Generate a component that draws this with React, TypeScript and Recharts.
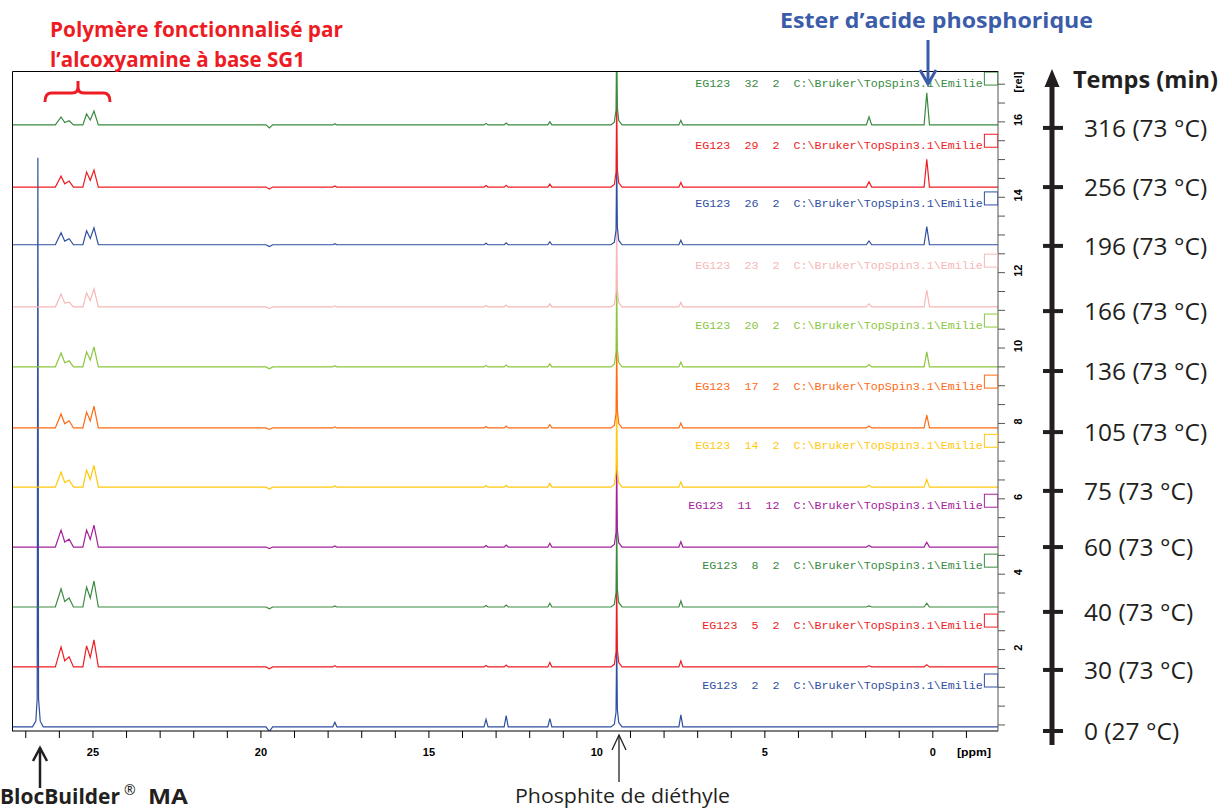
import React from 'react';
import { ComposedChart, Line, Scatter, XAxis, YAxis } from 'recharts';

// axis ranges (ppm reversed, intensity in [rel])
const ppmMin = -1.94;
const ppmMax = 27.41;
const relMin = -0.16;
const relMax = 17.35;

const ppmTicks = Array.from({ length: 29 }, (_, i) => i - 1);
const relTicks = Array.from({ length: 35 }, (_, i) => i * 0.5);

// spectra, bottom to top
const traceNames = ['2  2', '5  2', '8  2', '11  12', '14  2', '17  2', '20  2', '23  2', '26  2', '29  2', '32  2'];
const traceColors = ['#2f4fa0', '#ee1d24', '#3a8a3f', '#a3229b', '#ffc90e', '#ff6a13', '#8cc63f', '#f6b8b8', '#2f4fa0', '#ee1d24', '#3a8a3f'];
const traceOffsets = [-0.05, 1.54, 3.13, 4.72, 6.31, 7.88, 9.5, 11.09, 12.74, 14.27, 15.92];

// time axis
const timeLabels = ['0 (27 °C)', '30 (73 °C)', '40 (73 °C)', '60 (73 °C)', '75 (73 °C)', '105 (73 °C)', '136 (73 °C)', '166 (73 °C)', '196 (73 °C)', '256 (73 °C)', '316 (73 °C)'];
const timeTickAt = [-0.16, 1.46, 3.0, 4.72, 6.21, 7.77, 9.39, 10.98, 12.71, 14.27, 15.84];

// peak heights per spectrum (rel units above baseline)
const blocBuilder = [15.1, 0, 0, 0, 0, 0, 0, 0, 0, 0, 0]; // 26.64 ppm
const polyA = [0, 0.53, 0.48, 0.45, 0.4, 0.37, 0.37, 0.34, 0.32, 0.29, 0.21]; // 25.95 ppm
const polyB = [0, 0.27, 0.24, 0.21, 0.19, 0.19, 0.16, 0.13, 0.16, 0.16, 0.11]; // 25.71 ppm
const polyC = [0, 0.56, 0.53, 0.45, 0.45, 0.42, 0.4, 0.37, 0.37, 0.4, 0.29]; // 25.19 ppm
const polyD = [0, 0.72, 0.69, 0.58, 0.58, 0.58, 0.53, 0.48, 0.45, 0.45, 0.37]; // 24.97 ppm
const dip20 = [-0.12, -0.05, -0.05, -0.04, -0.05, -0.04, -0.05, -0.04, -0.05, -0.05, -0.08]; // 19.75 ppm
const p178 = [0.12, 0.03, 0.03, 0.03, 0.03, 0.03, 0.03, 0.03, 0.03, 0.03, 0.03]; // 17.8 ppm
const p133 = [0.2, 0.04, 0.04, 0.04, 0.04, 0.04, 0.04, 0.04, 0.04, 0.04, 0.04]; // 13.3 ppm
const p127 = [0.3, 0.05, 0.05, 0.05, 0.05, 0.05, 0.05, 0.05, 0.05, 0.05, 0.05]; // 12.7 ppm
const p114 = [0.22, 0.12, 0.1, 0.1, 0.1, 0.09, 0.08, 0.08, 0.08, 0.08, 0.08]; // 11.4 ppm
const phosphite = [2.3, 2.3, 2.3, 2.3, 2.3, 2.3, 2.3, 2.3, 2.3, 2.3, 2.3]; // 9.41 ppm
const p75 = [0.32, 0.16, 0.16, 0.14, 0.14, 0.13, 0.13, 0.12, 0.12, 0.12, 0.12]; // 7.5 ppm
const p19 = [0, 0.03, 0.03, 0.04, 0.05, 0.05, 0.06, 0.08, 0.1, 0.14, 0.21]; // 1.9 ppm
const ester = [0, 0.06, 0.1, 0.13, 0.2, 0.34, 0.4, 0.45, 0.48, 0.74, 0.85]; // 0.18 ppm

type Pt = { x: number; y: number };

const buildTrace = (i: number): Pt[] => {
  const b = blocBuilder[i];
  const p = phosphite[i];
  const v: [number, number][] = [
    [ppmMax, 0],
    [26.8, 0], [26.7, b * 0.01], [26.66, b * 0.05], [26.64, b], [26.62, b * 0.05], [26.57, b * 0.01], [26.48, 0],
    [26.12, 0], [25.95, polyA[i]], [25.84, polyA[i] * 0.3], [25.71, polyB[i]], [25.58, 0],
    [25.3, 0], [25.19, polyC[i]], [25.08, polyC[i] * 0.45], [24.97, polyD[i]], [24.84, 0],
    [19.85, 0], [19.75, dip20[i]], [19.65, 0],
    [17.86, 0], [17.8, p178[i]], [17.74, 0],
    [13.36, 0], [13.3, p133[i]], [13.24, 0],
    [12.76, 0], [12.7, p127[i]], [12.64, 0],
    [11.46, 0], [11.4, p114[i]], [11.34, 0],
    [9.58, 0], [9.48, p * 0.03], [9.43, p * 0.17], [9.41, p], [9.39, p * 0.2], [9.35, p * 0.05], [9.25, 0],
    [7.56, 0], [7.5, p75[i]], [7.44, 0],
    [1.98, 0], [1.9, p19[i]], [1.82, 0],
    [0.26, 0], [0.18, ester[i]], [0.1, 0],
    [ppmMin, 0],
  ];
  return v.map(([x, h]) => ({ x, y: traceOffsets[i] + h }));
};

const traces = traceOffsets.map((_, i) => buildTrace(i));
const labelPoints = traceOffsets.map((o, i) => ({ x: -1.49, y: o + 1.11, name: traceNames[i], color: traceColors[i] }));

const tickFont = '"Liberation Sans", Arial, sans-serif';
const textFont = '"Open Sans", "Noto Sans", sans-serif';

const PpmTick = (props: any) => {
  const { x, y, payload } = props;
  const v = payload.value;
  if (v < 0 || v % 5 !== 0) return <g />;
  return (
    <text x={x} y={y + 16} textAnchor="middle" fontSize={11} fontWeight="bold" fontFamily={tickFont} fill="#000">
      {v}
    </text>
  );
};

const RelTick = (props: any) => {
  const { x, y, payload } = props;
  const v = payload.value;
  if (v <= 0 || v > 16 || v % 2 !== 0) return <g />;
  const cx = x + 11;
  const cy = y - 2;
  return (
    <text x={cx} y={cy} transform={`rotate(-90 ${cx} ${cy})`} textAnchor="middle" dominantBaseline="central"
      fontSize={11} fontWeight="bold" fontFamily={tickFont} fill="#000">
      {v}
    </text>
  );
};

const TimeTick = (props: any) => {
  const { x, y, index } = props;
  return (
    <g>
      <line x1={x - 9} x2={x + 11} y1={y} y2={y} stroke="#231f20" strokeWidth={4} />
      <text x={x + 32} y={y + 9} fontSize={24.5} fontFamily={textFont} fill="#231f20">
        {timeLabels[index]}
      </text>
    </g>
  );
};

const TraceLabel = (props: any) => {
  const { cx, cy, payload } = props;
  return (
    <g>
      <text x={cx} y={cy + 4} textAnchor="end" fontSize={11.7} fontFamily='"Liberation Mono", "Courier New", monospace'
        fill={payload.color} style={{ whiteSpace: 'pre' }}>
        {`EG123  ${payload.name}  C:\\Bruker\\TopSpin3.1\\Emilie`}
      </text>
      <rect x={cx + 1.5} y={cy - 11} width={13.5} height={13} fill="none" stroke={payload.color} strokeWidth={1} />
    </g>
  );
};

const App = () => {
  return (
    <div style={{ position: 'absolute', left: 0, top: 0, width: 1221, height: 809, background: '#fff' }}>
      <ComposedChart width={1221} height={809} margin={{ top: 71, right: 0, bottom: 48, left: 12 }}>
        <XAxis xAxisId="bottom" dataKey="x" type="number" domain={[ppmMin, ppmMax]} reversed allowDataOverflow
          ticks={ppmTicks} interval={0} tickSize={7} tickMargin={2} height={30} tick={<PpmTick />}
          axisLine={{ stroke: '#000' }} tickLine={{ stroke: '#000' }} />
        <YAxis yAxisId="rel" orientation="right" type="number" domain={[relMin, relMax]} allowDataOverflow
          ticks={relTicks} interval={0} width={54} tickSize={7} tickMargin={2} tick={<RelTick />}
          axisLine={{ stroke: '#555' }} tickLine={{ stroke: '#555' }} />
        <YAxis yAxisId="time" orientation="right" type="number" domain={[relMin, relMax]} allowDataOverflow
          ticks={timeTickAt} interval={0} width={169} tickSize={0} tickMargin={0} tick={<TimeTick />}
          axisLine={false} tickLine={false} />
        {traces.map((t, i) => (
          <Line key={i} data={t} dataKey="y" xAxisId="bottom" yAxisId="rel" type="linear" dot={false}
            stroke={traceColors[i]} strokeWidth={1.2} isAnimationActive={false} />
        ))}
        <Scatter data={labelPoints} dataKey="y" xAxisId="bottom" yAxisId="rel" shape={<TraceLabel />}
          isAnimationActive={false} />
      </ComposedChart>
      <svg width={1221} height={809} style={{ position: 'absolute', left: 0, top: 0, pointerEvents: 'none' }}>
        {/* plot frame, top and left sides */}
        <polyline points="12.5,731 12.5,71.5 998,71.5" fill="none" stroke="#000" strokeWidth={1} />
        <g fontFamily={textFont} fontWeight="bold" fontSize={21}>
          <text x={50} y={37} fill="#ed1c24" textLength={293} lengthAdjust="spacingAndGlyphs">Polymère fonctionnalisé par</text>
          <text x={50} y={67} fill="#ed1c24" textLength={255} lengthAdjust="spacingAndGlyphs">l’alcoxyamine à base SG1</text>
          <text x={780} y={28} fill="#3b5ca8" textLength={313} lengthAdjust="spacingAndGlyphs">Ester d’acide phosphorique</text>
          <text x={1073} y={88} fill="#231f20" fontSize={24} textLength={145} lengthAdjust="spacingAndGlyphs">Temps (min)</text>
          <text x={0} y={804} fill="#231f20" textLength={120} lengthAdjust="spacingAndGlyphs">BlocBuilder</text>
          <text x={124} y={795} fill="#231f20" fontSize={14} fontWeight="normal">®</text>
          <text x={148} y={804} fill="#231f20" textLength={40} lengthAdjust="spacingAndGlyphs">MA</text>
        </g>
        <text x={515} y={803} fill="#231f20" fontFamily={textFont} fontSize={20} textLength={215} lengthAdjust="spacingAndGlyphs">
          Phosphite de diéthyle
        </text>
        <path d="M45,102 Q45,93 51,93 L72,93 Q78,93 78,87 L78,81 M78,87 Q78,93 84,93 L104,93 Q110,93 110,102"
          fill="none" stroke="#ed1c24" strokeWidth={3} />
        <line x1={928} y1={40} x2={928} y2={84} stroke="#3b5ca8" strokeWidth={3} />
        <polyline points="920,70 928,84 936,70" fill="none" stroke="#3b5ca8" strokeWidth={3} />
        <line x1={1052} y1={80} x2={1052} y2={745} stroke="#231f20" strokeWidth={5} />
        <polygon points="1052,69 1044.5,87 1059.5,87" fill="#231f20" />
        <line x1={40} y1={788} x2={40} y2={748} stroke="#231f20" strokeWidth={2.5} />
        <polyline points="33,761 40,748 47,761" fill="none" stroke="#231f20" strokeWidth={2.5} />
        <line x1={619} y1={782} x2={619} y2={735} stroke="#231f20" strokeWidth={1.3} />
        <polyline points="612,750 619,735 626,750" fill="none" stroke="#231f20" strokeWidth={1.3} />
        <text x={957} y={756} fontFamily={tickFont} fontWeight="bold" fontSize={11} textLength={34} lengthAdjust="spacingAndGlyphs">[ppm]</text>
        <text x={1018} y={82} transform="rotate(-90 1018 82)" textAnchor="middle" dominantBaseline="central"
          fontFamily={tickFont} fontWeight="bold" fontSize={11}>[rel]</text>
      </svg>
    </div>
  );
};

export default App;
